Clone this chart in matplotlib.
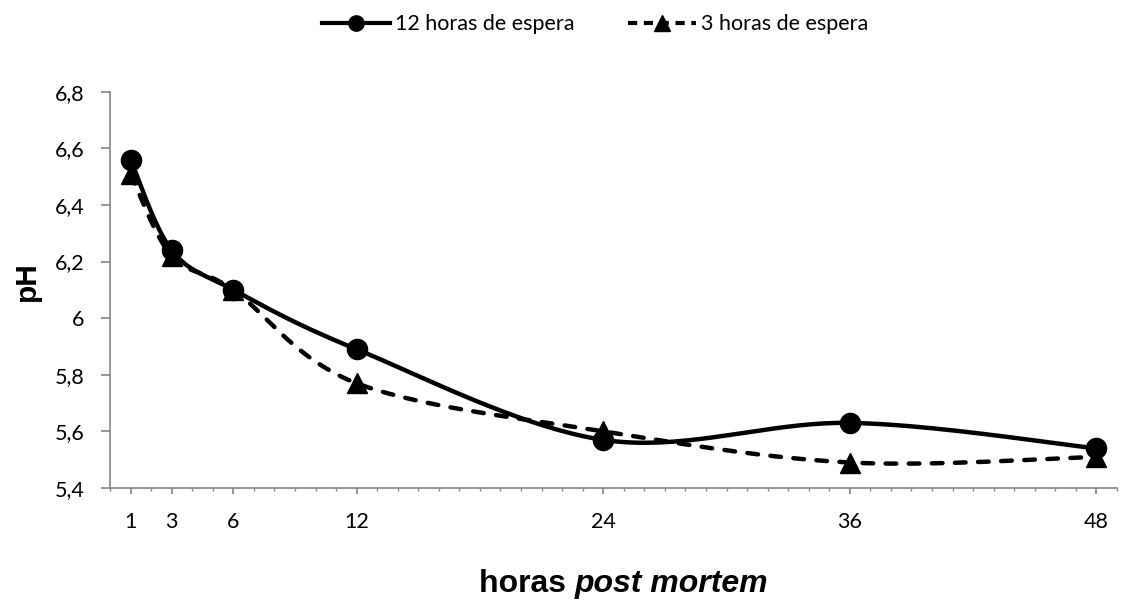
import numpy as np
import matplotlib
matplotlib.use("Agg")
import matplotlib.pyplot as plt
from matplotlib.lines import Line2D
from matplotlib.ticker import FixedLocator, MultipleLocator, FuncFormatter

# data
hours = [1, 3, 6, 12, 24, 36, 48]
ph_12h = [6.56, 6.24, 6.10, 5.89, 5.57, 5.63, 5.54]
ph_3h = [6.51, 6.22, 6.10, 5.77, 5.60, 5.49, 5.51]
labels = ["12 horas de espera", "3 horas de espera"]
y_ticks = [5.4, 5.6, 5.8, 6.0, 6.2, 6.4, 6.6, 6.8]

tick_font = "Lato"
axis_grey = "#868686"
lw = 3.2
dash = (2.4, 2.8)


def smooth(xs, ys, n=40):
    """Excel-style smoothed line: cubic Bezier through the points."""
    pts = np.column_stack([xs, ys]).astype(float)
    padded = np.vstack([pts[0], pts, pts[-1]])
    t = np.linspace(0, 1, n)[:, None]
    out = []
    for i in range(len(pts) - 1):
        p0, p1, p2, p3 = padded[i], padded[i + 1], padded[i + 2], padded[i + 3]
        c1 = p1 + (p2 - p0) / 6
        c2 = p2 - (p3 - p1) / 6
        seg = (1 - t) ** 3 * p1 + 3 * (1 - t) ** 2 * t * c1 + 3 * (1 - t) * t ** 2 * c2 + t ** 3 * p2
        out.append(seg if i == 0 else seg[1:])
    out = np.vstack(out)
    return out[:, 0], out[:, 1]


fig = plt.figure(figsize=(11.34, 6.02), dpi=100)
ax = fig.add_axes([0.097, 0.1894, 0.888, 0.6583])

sx, sy = smooth(hours, ph_12h)
ax.plot(sx, sy, color="black", lw=lw, solid_capstyle="round", zorder=3)
ax.plot(hours, ph_12h, ls="none", marker="o", ms=14.5, color="black", zorder=4)

sx, sy = smooth(hours, ph_3h)
ax.plot(sx, sy, color="black", lw=lw, dashes=dash, dash_capstyle="round", zorder=3)
ax.plot(hours, ph_3h, ls="none", marker="^", ms=15, color="black", zorder=4)

ax.set_xlim(0, 49)
ax.set_ylim(5.4, 6.8)

ax.xaxis.set_major_locator(FixedLocator(hours))
ax.xaxis.set_minor_locator(MultipleLocator(1))
ax.yaxis.set_major_locator(FixedLocator(y_ticks))
ax.yaxis.set_major_formatter(FuncFormatter(lambda v, p: f"{v:g}".replace(".", ",")))

for side in ["top", "right"]:
    ax.spines[side].set_visible(False)
for side in ["left", "bottom"]:
    ax.spines[side].set_color(axis_grey)
    ax.spines[side].set_linewidth(1.2)

ax.tick_params(axis="x", which="major", length=4.5, width=1.2, color=axis_grey, pad=13)
ax.tick_params(axis="x", which="minor", length=2, width=1, color=axis_grey)
ax.tick_params(axis="y", which="major", length=6.5, width=1.2, color=axis_grey, pad=12)
for lab in ax.get_xticklabels() + ax.get_yticklabels():
    lab.set_fontfamily(tick_font)
    lab.set_fontsize(15.5)

# axis titles
fig.text(0.024, 0.533, "pH", rotation=90, ha="center", va="center",
         fontsize=21.5, fontweight="bold", family="Liberation Sans")

renderer = fig.canvas.get_renderer()
t1 = fig.text(0, 0, "horas ", fontsize=23, fontweight="bold",
              family="Liberation Sans", va="baseline")
t2 = fig.text(0, 0, "post mortem", fontsize=23, fontweight="bold", style="italic",
              family="Liberation Sans", va="baseline")
w1 = t1.get_window_extent(renderer).width
w2 = t2.get_window_extent(renderer).width
x0 = 624 - (w1 + w2) / 2
t1.set_position((x0 / 1134, 1 - 592 / 602))
t2.set_position(((x0 + w1) / 1134, 1 - 592 / 602))

handles = [
    Line2D([], [], color="black", lw=3, marker="o", ms=11),
    Line2D([], [], color="black", lw=3, dashes=(2.2, 1.6), marker="^", ms=11),
]
fig.legend(handles, labels, loc="center", bbox_to_anchor=(0.525, 0.96), ncol=2,
           frameon=False, handlelength=3.15, handletextpad=0.23, columnspacing=2.5,
           prop={"family": tick_font, "size": 15.5})

plt.savefig("out.png", dpi=100)
